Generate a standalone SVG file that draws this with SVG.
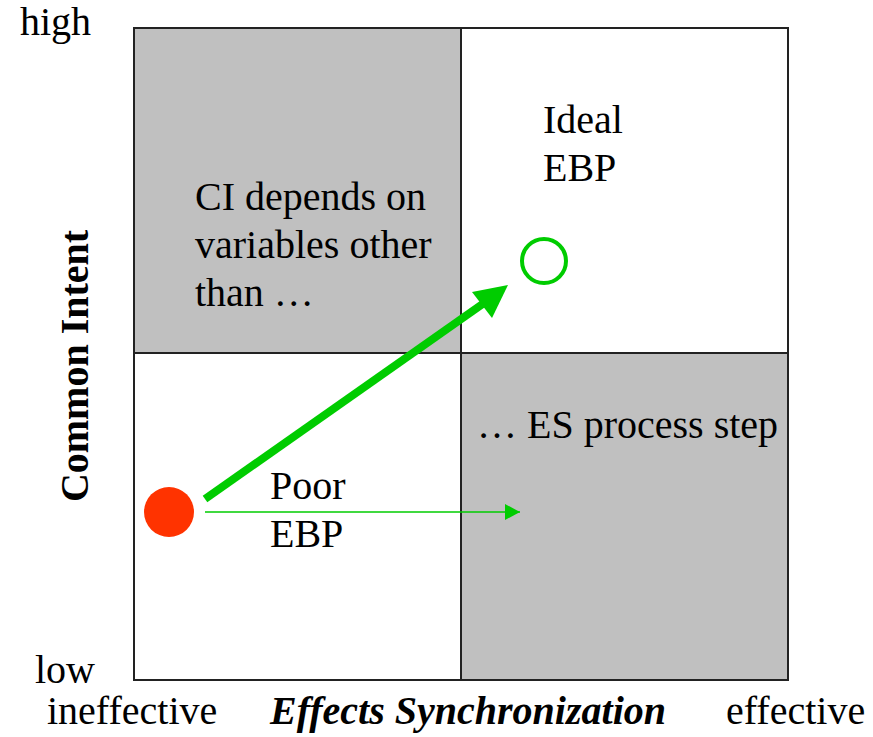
<svg xmlns="http://www.w3.org/2000/svg" width="873" height="737" viewBox="0 0 873 737">
<style>
text{font-family:'Liberation Serif','Nimbus Roman','Nimbus Roman No9 L','FreeSerif','Noto Serif','DejaVu Serif','Times',serif;font-size:40px;fill:#000}
.q{stroke:#222;stroke-width:2}
.g{fill:#C0C0C0}
.w{fill:#fff}
</style>
<defs>
<marker id="thin" markerWidth="16" markerHeight="16" refX="15" refY="8" orient="auto" markerUnits="userSpaceOnUse">
<path d="M0,0 L15,8 L0,16 Z" fill="#00CC00"/>
</marker>
</defs>
<rect width="873" height="737" fill="#fff"/>
<g id="quadrants">
<rect id="q-tl" class="q g" x="134" y="28" width="327" height="325"/>
<rect id="q-tr" class="q w" x="461" y="28" width="327" height="325"/>
<rect id="q-bl" class="q w" x="134" y="353" width="327" height="327"/>
<rect id="q-br" class="q g" x="461" y="353" width="327" height="327"/>
</g>
<g id="labels">
<text x="195" y="210">CI depends on</text>
<text x="195" y="258">variables other</text>
<text x="195" y="306">than …</text>
<text x="543" y="133">Ideal</text>
<text x="543" y="181">EBP</text>
<text x="477" y="438">… ES process step</text>
<text x="270" y="499">Poor</text>
<text x="270" y="547">EBP</text>
</g>
<g id="axes">
<text x="20" y="35">high</text>
<text x="35" y="683">low</text>
<text x="47" y="724">ineffective</text>
<text x="726" y="724">effective</text>
<text x="468" y="724" text-anchor="middle" font-weight="bold" font-style="italic">Effects Synchronization</text>
<text transform="translate(88,366) rotate(-90)" text-anchor="middle" font-weight="bold">Common Intent</text>
</g>
<g id="connectors">
<line x1="205" y1="512" x2="520" y2="512" stroke="#00CC00" stroke-width="1.5" marker-end="url(#thin)"/>
<line x1="205" y1="499" x2="484" y2="303" stroke="#00CC00" stroke-width="8"/>
<path d="M508,285 L472,292 L492,318 Z" fill="#00CC00"/>
</g>
<g id="start-node">
<circle cx="169" cy="512" r="25" fill="#FF3300"/>
</g>
<g id="ideal-node">
<circle cx="544" cy="261" r="22" fill="none" stroke="#00CC00" stroke-width="4"/>
</g>
</svg>
